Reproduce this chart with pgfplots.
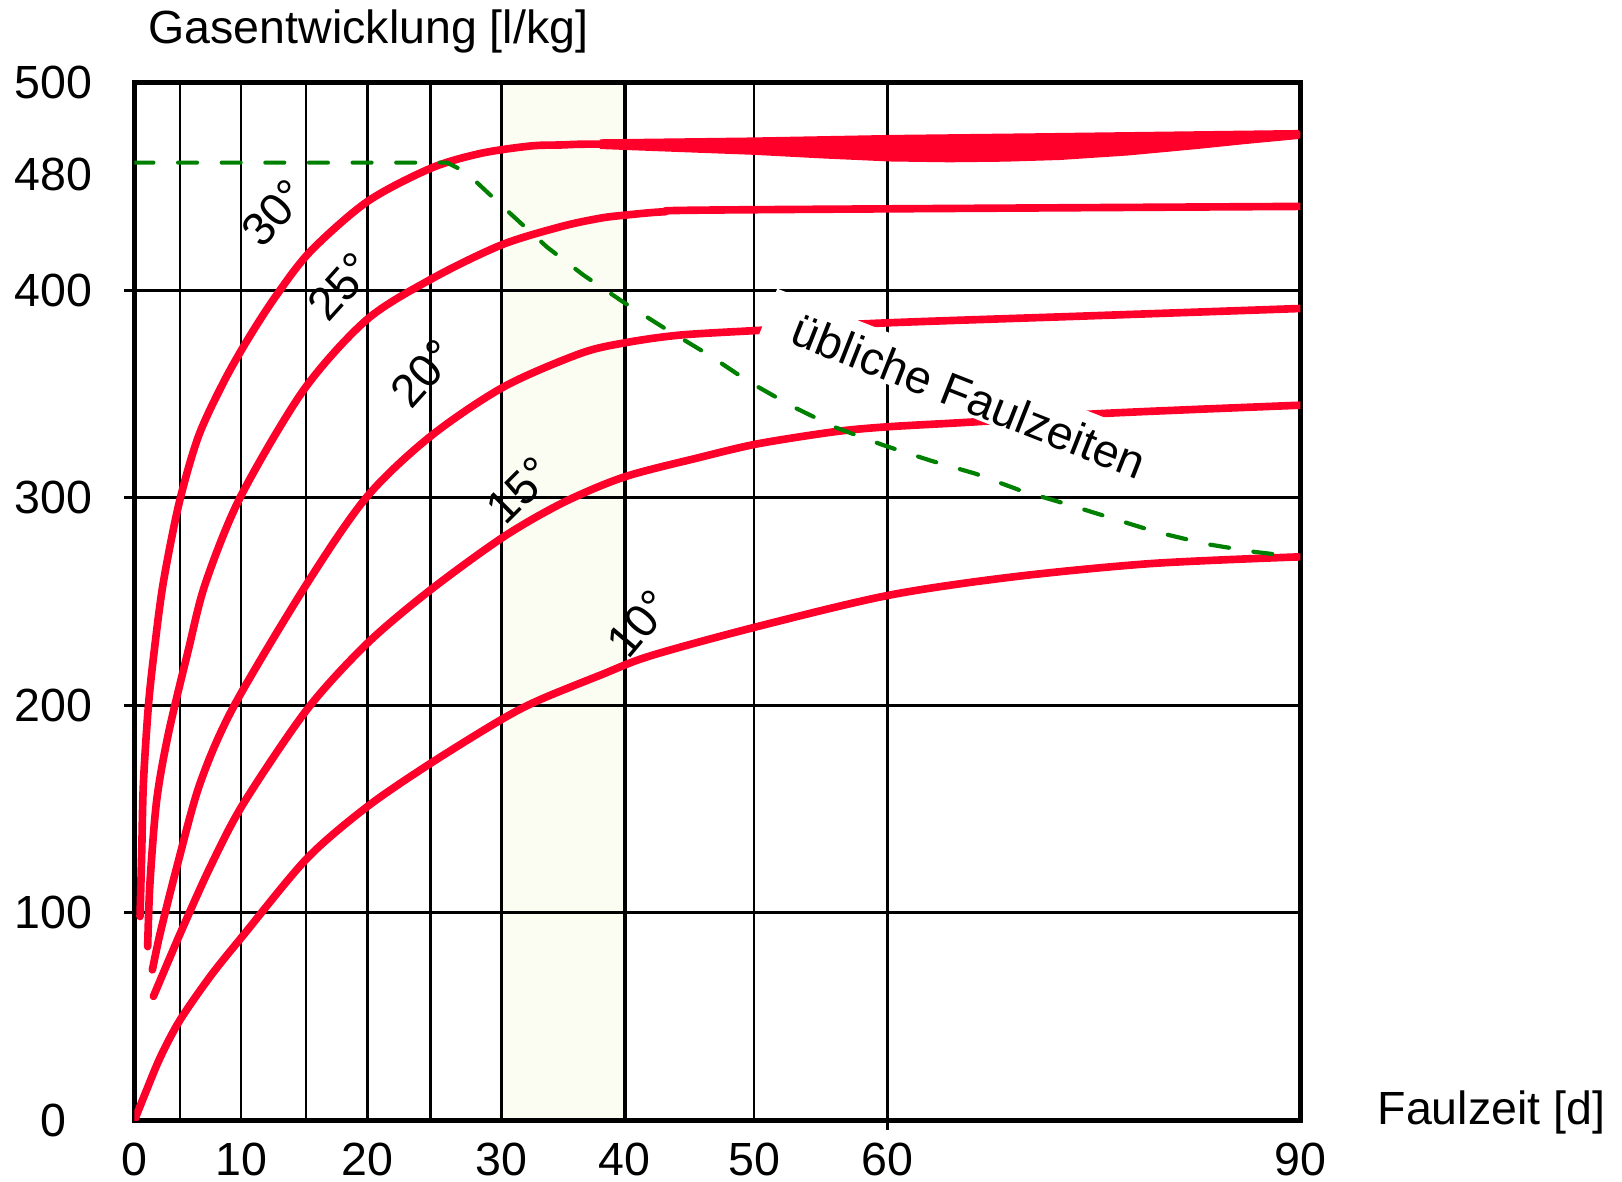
\documentclass[border=0pt]{standalone}
\usepackage{fontspec}
\setmainfont{Liberation Sans}
\usepackage{pgfplots}
\pgfplotsset{compat=1.18}

\definecolor{kurve}{RGB}{255,0,42}
\definecolor{faul}{RGB}{0,128,0}
\definecolor{band}{RGB}{251,252,242}
\newcommand\fs{\fontsize{12.8}{15.4}\selectfont}

% the day axis of the original is not linear: piecewise scale between its grid lines
\newcommand\faultrafo[1]{\pgfmathparse{(#1<5)?(8.8*#1):((#1<10)?(44+11.8*(#1-5)):((#1<15)?(103+12.6*(#1-10)):((#1<20)?(166+11.8*(#1-15)):((#1<25)?(225+12.2*(#1-20)):((#1<30)?(286+13.8*(#1-25)):((#1<40)?(355+11.9*(#1-30)):((#1<50)?(474+12.5*(#1-40)):((#1<60)?(599+12.9*(#1-50)):(728+13.3*(#1-60))))))))))}}

\begin{document}
\begin{tikzpicture}
\begin{axis}[
    name=ax, at={(0,0)}, anchor=south west,
    scale only axis, width=11.27cm, height=10.03cm,
    set layers,
    xmin=0, xmax=90, ymin=0, ymax=500,
    x coord trafo/.code={\faultrafo{#1}},
    xtick={0,5,10,15,20,25,30,40,50,60,90},
    xticklabels={0,,10,,20,,\raisebox{0.04cm}{30},40,50,60,90},
    ytick={0,100,200,300,400,500},
    yticklabels={0,100,200,300,400,500},
    extra y ticks={456}, extra y tick labels={480},
    extra y tick style={grid=none, major tick length=0pt},
    tick style={draw=none},
    grid=major,
    major grid style={black, line width=0.7pt},
    axis line style={line width=1.3pt},
    tick label style={font=\fs, inner sep=0pt},
    xticklabel style={yshift=-0.21cm},
    yticklabel style={anchor=center, xshift=-0.78cm},
    every axis plot/.append style={line join=round, line cap=round},
    ]
    % usual digestion band 30-40 d
    \addplot[on layer=axis background, draw=none, fill=band] coordinates {(30,0) (40,0) (40,500) (30,500)};
    \addplot[on layer=axis grid, black, line width=1.1pt, line cap=butt] coordinates {(40,0) (40,500)};

    % 30 deg
    \addplot[kurve, line width=2.1pt, smooth, tension=0.5] coordinates {
        (0.61,98.2) (0.80,130.1) (0.98,162.3) (1.52,199.2) (2.16,225.8) (3.15,258.7)
        (4.89,297.2) (6.50,329.4) (8.52,355.1) (10.49,376.0) (12.64,396.9) (15.34,418.7)
        (20.0,442.7) (25.0,458.7) (28.49,465.9) (32.32,469.5) (34.76,470.0) (38.01,470.4)
        (50.0,469.5) (60.15,468.5) (72.48,469.3) (82.52,472.4) (89.85,475.0)};
    \addplot[kurve, fill=kurve, line width=0.4pt] coordinates {
        (38.01,472.4) (50.0,473.3) (60.15,474.5) (70.68,475.3) (89.85,476.9)
        (89.85,473.2) (86.0,470.8) (82.5,468.4) (77.5,465.3) (72.5,463.1) (68.5,462.3) (64.5,462.0)
        (60.15,462.4) (55.0,463.9) (50.0,465.6) (44.0,467.0) (38.01,468.4)};
    % 25 deg
    \addplot[kurve, line width=2.1pt, smooth, tension=0.5] coordinates {
        (1.45,83.7) (1.70,114.2) (2.44,154.2) (3.73,186.4) (5.68,226.5) (7.08,258.7)
        (9.95,300.4) (14.79,351.8) (19.92,385.6) (25.04,405.3) (29.93,421.7)
        (34.78,430.6) (37.98,434.7) (40.03,436.2) (42.96,437.8) (47.68,438.7) (90,440.4)};
    % 20 deg
    \addplot[kurve, line width=2.1pt, smooth, tension=0.5] coordinates {
        (1.97,72.5) (2.81,89.9) (4.65,122.0) (6.64,162.3) (9.38,199.2) (15.07,258.7)
        (19.96,300.4) (24.97,329.4) (30.15,353.4) (36.38,369.5) (40.03,374.7) (44.29,378.4)
        (50.71,380.8) (58.88,384.0) (74.44,387.6) (90,391.2)};
    % 15 deg
    \addplot[kurve, line width=2.1pt, smooth, tension=0.5] coordinates {
        (2.08,59.7) (5.01,89.9) (7.47,122.0) (10.18,152.6) (15.06,197.9) (19.96,229.6) (24.97,255.4)
        (30.16,281.2) (35.04,297.8) (40.0,310.1) (45.84,319.5) (50.27,326.0) (56.02,331.8)
        (60.02,334.2) (66.42,336.6) (75.61,340.6) (90,344.6)};
    % 10 deg
    \addplot[kurve, line width=2.1pt, smooth, tension=0.5] coordinates {
        (0,0) (1.14,12.5) (2.84,30.4) (5.01,48.4) (7.54,69.8) (10.18,89.2) (15.05,126.1)
        (19.97,151.0) (24.99,171.9) (29.90,192.8) (33.00,202.4) (38.01,214.5) (41.97,223.8)
        (50.17,237.8) (60.08,253.0) (69.16,261.9) (79.18,268.3) (89.86,271.5)};

    % usual digestion times
    \addplot[faul, line width=1.15pt, dash pattern=on 5.2pt off 6.8pt] coordinates {
        (0,461.5) (26.16,461.5) (27.46,457.1) (29.93,441.2) (33.70,420.7) (36.64,407.3) (40.0,393.8)
        (43.28,380.9) (46.48,368.9) (49.60,355.9) (52.87,344.0) (56.05,334.0) (59.61,325.5)
        (63.08,318.0) (66.39,311.6) (69.62,303.6) (72.93,297.1) (76.32,290.1) (79.47,283.6)
        (83.16,277.7) (86.69,273.9) (87.97,272.9)};

    \node[rotate=48, font=\fs] at (axis cs:12.54,437.2) {30°};
    \node[rotate=48, font=\fs] at (axis cs:17.80,401.8) {25°};
    \node[rotate=48, font=\fs] at (axis cs:24.43,359.9) {20°};
    \node[rotate=45, font=\fs] at (axis cs:31.43,303.6) {15°};
    \node[rotate=50, font=\fs] at (axis cs:41.12,239.3) {10°};
    % white text box behind the label (it sits higher than the text)
    \node[rotate=-21.5, fill=white, inner sep=0pt, minimum width=4.19cm, minimum height=0.47cm] at (axis cs:65.99,351.6) {};
    \node[rotate=-21.5, inner sep=0pt, font=\fs] at (axis cs:65.94,349.0) {übliche Faulzeiten};
\end{axis}

\foreach \yy in {2.006,4.012,6.018,8.024}
    \draw[line width=0.7pt] ([yshift=\yy cm]ax.south west) -- ++(-0.1cm,0);
\draw[line width=0.7pt] ([xshift=7.28cm]ax.south west) -- ++(0,-0.09cm);

\node[anchor=base west, inner sep=0pt, font=\fs] at ([xshift=0.13cm, yshift=0.38cm]ax.north west) {Gasentwicklung [l/kg]};
\node[anchor=base west, inner sep=0pt, font=\fs] at ([xshift=0.74cm, yshift=-0.04cm]ax.south east) {Faulzeit [d]};

\pgfresetboundingbox
\path[use as bounding box] ([xshift=-1.30cm, yshift=-0.59cm]ax.south west) rectangle ([xshift=3.11cm, yshift=0.80cm]ax.north east);
\end{tikzpicture}
\end{document}
